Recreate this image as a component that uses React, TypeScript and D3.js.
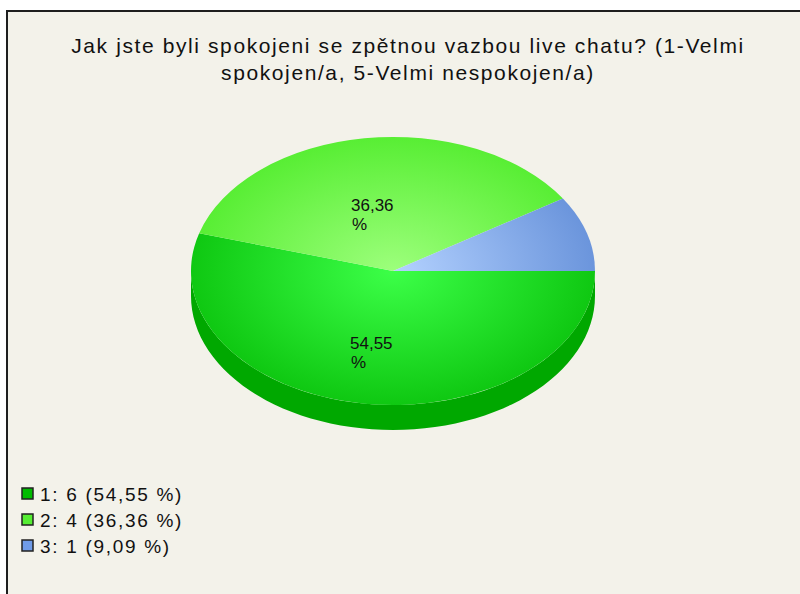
import React from "react";
import * as d3 from "d3";

const categories = ["1", "2", "3"];
const counts = [6, 4, 1];
const percentLabels = ["54,55", "36,36", "9,09"];
const titleLines = [
  "Jak jste byli spokojeni se zpětnou vazbou live chatu? (1-Velmi",
  "spokojen/a, 5-Velmi nespokojen/a)",
];
const topCenter = ["#3cff48", "#9dff7c", "#b4d2ff"];
const topEdge = ["#0fc812", "#58ee34", "#6b95dc"];
const sideColors = ["#00a800", "#3cc020", "#5078c0"];
const legendColors = ["#00bb00", "#55ee33", "#6f9be8"];

const W = 800;
const H = 594;
const cx = 393;
const cy = 271;
const rx = 202;
const ry = 134;
const depth = 25;
const FONT = "'Liberation Sans', Arial, sans-serif";

export default function App() {
  const pie = d3
    .pie<number>()
    .sort(null)
    .startAngle(Math.PI / 2)
    .endAngle(Math.PI / 2 + 2 * Math.PI)(counts);
  const arc = d3.arc<d3.PieArcDatum<number>>().innerRadius(0).outerRadius(rx);
  const k = ry / rx;

  const sides: { d: string; i: number }[] = [];
  pie.forEach((p, i) => {
    const t0 = p.startAngle - Math.PI / 2;
    const t1 = p.endAngle - Math.PI / 2;
    const segs: [number, number][] = [];
    for (const off of [0, -2 * Math.PI]) {
      const a = Math.max(t0 + off, 0);
      const b = Math.min(t1 + off, Math.PI);
      if (b > a) segs.push([a, b]);
    }
    segs.forEach(([a, b]) => {
      const pth = d3.path();
      const x = (t: number) => cx + rx * Math.cos(t);
      const y = (t: number) => cy + ry * Math.sin(t);
      const n = 60;
      pth.moveTo(x(a), y(a));
      for (let j = 1; j <= n; j++) {
        const t = a + ((b - a) * j) / n;
        pth.lineTo(x(t), y(t));
      }
      for (let j = n; j >= 0; j--) {
        const t = a + ((b - a) * j) / n;
        pth.lineTo(x(t), y(t) + depth);
      }
      pth.closePath();
      sides.push({ d: pth.toString(), i });
    });
  });

  return (
    <svg
      width={W}
      height={H}
      style={{ position: "absolute", left: 0, top: 0 }}
      fontFamily={FONT}
    >
      <defs>
        {categories.map((c, i) => (
          <radialGradient
            key={c}
            id={`g${i}`}
            gradientUnits="userSpaceOnUse"
            cx={0}
            cy={0}
            r={rx}
          >
            <stop offset="0" stopColor={topCenter[i]} />
            <stop offset="1" stopColor={topEdge[i]} />
          </radialGradient>
        ))}
      </defs>
      <rect x={0} y={0} width={W} height={H} fill="#ffffff" />
      <rect
        x={7}
        y={11}
        width={W + 20}
        height={H + 20}
        fill="#f3f2ea"
        stroke="#1e1e1e"
        strokeWidth={2}
      />
      <text fontSize={21} fill="#111" textAnchor="middle" letterSpacing={1.6}>
        {titleLines.map((l, i) => (
          <tspan key={i} x={408} y={53 + i * 27}>
            {l}
          </tspan>
        ))}
      </text>
      {sides.map((s, j) => (
        <path key={j} d={s.d} fill={sideColors[s.i]} />
      ))}
      <g transform={`translate(${cx},${cy}) scale(1,${k})`}>
        {pie.map((p, i) => (
          <path key={i} d={arc(p) || ""} fill={`url(#g${i})`} />
        ))}
      </g>
      {pie.map((p, i) =>
        p.value > 1 ? (
          <text key={i} fontSize={17} fill="#111">
            <tspan x={i === 0 ? 350 : 351} y={i === 0 ? 349 : 211}>
              {percentLabels[i]}
            </tspan>
            <tspan x={i === 0 ? 351 : 352} y={i === 0 ? 368 : 230}>
              %
            </tspan>
          </text>
        ) : null
      )}
      {categories.map((c, i) => (
        <g key={c} transform={`translate(0,${494 + i * 26})`}>
          <rect x={22} y={-6} width={11} height={11} fill={legendColors[i]} stroke="#222" strokeWidth={1.5} />
          <text x={40} y={6.5} fontSize={19} fill="#111" letterSpacing={1.7}>
            {`${c}: ${counts[i]} (${percentLabels[i]} %)`}
          </text>
        </g>
      ))}
    </svg>
  );
}
